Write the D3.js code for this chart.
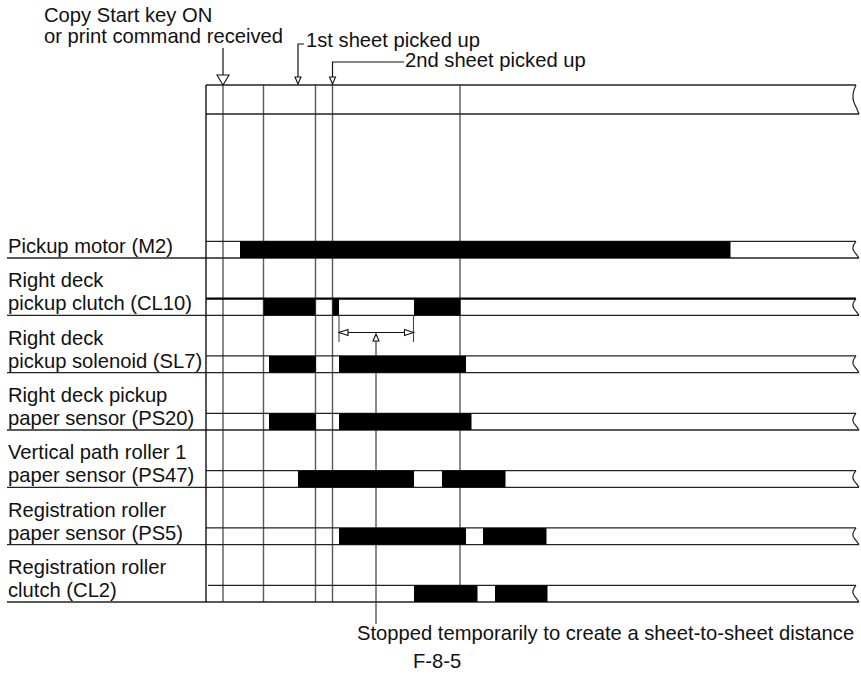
<!DOCTYPE html>
<html>
<head>
<meta charset="utf-8">
<script src="https://cdn.jsdelivr.net/npm/d3@7"></script>
<style>
body { margin: 0; background: #fff; }
text { font-family: "Liberation Sans", Arial, sans-serif; font-size: 20.2px; fill: #111; }
</style>
</head>
<body>
<div id="chart"></div>
<script>
// signal names (one entry per row, split in lines)
var rowLabels = [
  ["Pickup motor (M2)"],
  ["Right deck", "pickup clutch (CL10)"],
  ["Right deck", "pickup solenoid (SL7)"],
  ["Right deck pickup", "paper sensor (PS20)"],
  ["Vertical path roller 1", "paper sensor (PS47)"],
  ["Registration roller", "paper sensor (PS5)"],
  ["Registration roller", "clutch (CL2)"]
];

// ON periods per row, [start, end] in time units
var onPeriods = [
  [[34, 524.5]],
  [[57.5, 109.5], [126.5, 133], [208, 254.5]],
  [[63, 110], [133, 260]],
  [[63, 110], [133, 265.5]],
  [[92, 208], [236, 299.5]],
  [[133, 260], [277, 340.5]],
  [[208, 271.5], [289, 341.5]]
];

// timing reference lines
var timeMarks = [17, 57.5, 109.5, 126.5, 254];
var copyStart = 17, firstPick = 92, secondPick = 126.5;
var stopTime = 170, gapStart = 133, gapEnd = 207.5;

var W = 861, H = 674;
var svg = d3.select("#chart").append("svg")
  .attr("width", W).attr("height", H);

var x = d3.scaleLinear().domain([0, 650]).range([206, 856]);
// row bottom (low level line)
var y = d3.scaleLinear().domain([0, 6]).range([258, 602]);
var barH = 16.7;
var rightEnd = 859;

// break mark at right end
function brk(top, bot) {
  var h = bot - top;
  return "M" + x(650) + "," + top +
    "Q" + (x(650) - 5) + "," + (top + h * 0.35) + " " + (x(650) - 2) + "," + (top + h * 0.6) +
    "Q" + (x(650) + 1) + "," + (top + h * 0.82) + " " + rightEnd + "," + bot;
}

// vertical timing lines
svg.append("g").selectAll("line").data(timeMarks).enter()
  .append("line")
  .attr("x1", function(d){ return x(d); }).attr("x2", function(d){ return x(d); })
  .attr("y1", 85).attr("y2", y(6))
  .attr("stroke", "#5a5a5a").attr("stroke-width", 1.4);

// stop line down to note
svg.append("line")
  .attr("x1", x(stopTime)).attr("x2", x(stopTime))
  .attr("y1", 341).attr("y2", 624)
  .attr("stroke", "#5a5a5a").attr("stroke-width", 1.4);

// top band
svg.append("line").attr("x1", x(0)).attr("x2", x(650)).attr("y1", 85).attr("y2", 85)
  .attr("stroke", "#222").attr("stroke-width", 1.3);
svg.append("line").attr("x1", x(0)).attr("x2", rightEnd).attr("y1", 114).attr("y2", 114)
  .attr("stroke", "#222").attr("stroke-width", 1.3);
svg.append("path").attr("d", brk(85, 114)).attr("fill", "none")
  .attr("stroke", "#222").attr("stroke-width", 1.2);

// rows
var rows = svg.append("g").selectAll("g").data(rowLabels).enter()
  .append("g");

rows.append("line")
  .attr("x1", 7).attr("x2", rightEnd)
  .attr("y1", function(d, i){ return y(i); }).attr("y2", function(d, i){ return y(i); })
  .attr("stroke", "#222").attr("stroke-width", 1.3);

rows.append("line")
  .attr("x1", function(d, i){ return i == 6 ? x(0) + 2 : x(0); }).attr("x2", x(650))
  .attr("y1", function(d, i){ return y(i) - barH; }).attr("y2", function(d, i){ return y(i) - barH; })
  .attr("stroke", function(d, i){ return i == 1 ? "#000" : "#222"; })
  .attr("stroke-width", function(d, i){ return i == 1 ? 2.4 : 1.3; });

rows.append("path")
  .attr("d", function(d, i){ return brk(y(i) - barH, y(i)); })
  .attr("fill", "none").attr("stroke", "#222").attr("stroke-width", 1.2);

rows.each(function(d, i) {
  var g = d3.select(this);
  d.forEach(function(t, j) {
    g.append("text")
      .attr("x", 8)
      .attr("y", y(i) - 5 - (d.length - 1 - j) * 23)
      .text(t);
  });
});

// ON bars
rows.selectAll("rect").data(function(d, i){ return onPeriods[i].map(function(p){ return {p: p, i: i}; }); })
  .enter().append("rect")
  .attr("x", function(d){ return x(d.p[0]); })
  .attr("width", function(d){ return x(d.p[1]) - x(d.p[0]); })
  .attr("y", function(d){ return y(d.i) - barH; })
  .attr("height", barH)
  .attr("fill", "#000");

// left border
svg.append("line").attr("x1", x(0)).attr("x2", x(0)).attr("y1", 85).attr("y2", y(6))
  .attr("stroke", "#111").attr("stroke-width", 1.4);

// arrowheads (open triangles pointing down)
function downTri(cx, tip, w, h) {
  svg.append("path")
    .attr("d", "M" + (cx - w / 2) + "," + (tip - h) + "L" + (cx + w / 2) + "," + (tip - h) + "L" + cx + "," + tip + "Z")
    .attr("fill", "#fff").attr("stroke", "#111").attr("stroke-width", 1.1);
}

// Copy start annotation
svg.append("text").attr("x", 44).attr("y", 22).text("Copy Start key ON");
svg.append("text").attr("x", 44).attr("y", 43).text("or print command received");
svg.append("line").attr("x1", x(copyStart)).attr("x2", x(copyStart)).attr("y1", 48).attr("y2", 75)
  .attr("stroke", "#111").attr("stroke-width", 1.2);
downTri(x(copyStart), 85, 12, 10);

// 1st sheet
svg.append("path")
  .attr("d", "M" + (x(firstPick) + 6) + ",44H" + x(firstPick) + "V77")
  .attr("fill", "none").attr("stroke", "#111").attr("stroke-width", 1.2);
downTri(x(firstPick), 84, 6, 7);
svg.append("text").attr("x", x(firstPick) + 8).attr("y", 47).text("1st sheet picked up");

// 2nd sheet
svg.append("path")
  .attr("d", "M" + 404 + ",62H" + x(secondPick) + "V77")
  .attr("fill", "none").attr("stroke", "#111").attr("stroke-width", 1.2);
downTri(x(secondPick), 84, 6, 7);
svg.append("text").attr("x", 405).attr("y", 67).text("2nd sheet picked up");

// sheet-to-sheet gap dimension
var dimY = 332.5;
[gapStart, gapEnd].forEach(function(t) {
  svg.append("line").attr("x1", x(t)).attr("x2", x(t)).attr("y1", y(1)).attr("y2", 342)
    .attr("stroke", "#444").attr("stroke-width", 1.1);
});
svg.append("line").attr("x1", x(gapStart) + 8).attr("x2", x(gapEnd) - 8).attr("y1", dimY).attr("y2", dimY)
  .attr("stroke", "#111").attr("stroke-width", 1.2);
svg.append("path")
  .attr("d", "M" + x(gapStart) + "," + dimY + "L" + (x(gapStart) + 9) + "," + (dimY - 3) + "L" + (x(gapStart) + 9) + "," + (dimY + 3) + "Z")
  .attr("fill", "#fff").attr("stroke", "#111").attr("stroke-width", 1.1);
svg.append("path")
  .attr("d", "M" + x(gapEnd) + "," + dimY + "L" + (x(gapEnd) - 9) + "," + (dimY - 3) + "L" + (x(gapEnd) - 9) + "," + (dimY + 3) + "Z")
  .attr("fill", "#fff").attr("stroke", "#111").attr("stroke-width", 1.1);
// up arrow on stop line
svg.append("path")
  .attr("d", "M" + x(stopTime) + ",334L" + (x(stopTime) + 3) + ",341L" + (x(stopTime) - 3) + ",341Z")
  .attr("fill", "#fff").attr("stroke", "#111").attr("stroke-width", 1.1);

// notes
svg.append("text").attr("x", 357).attr("y", 640)
  .text("Stopped temporarily to create a sheet-to-sheet distance");
svg.append("text").attr("x", 413).attr("y", 668).text("F-8-5");
</script>
</body>
</html>
